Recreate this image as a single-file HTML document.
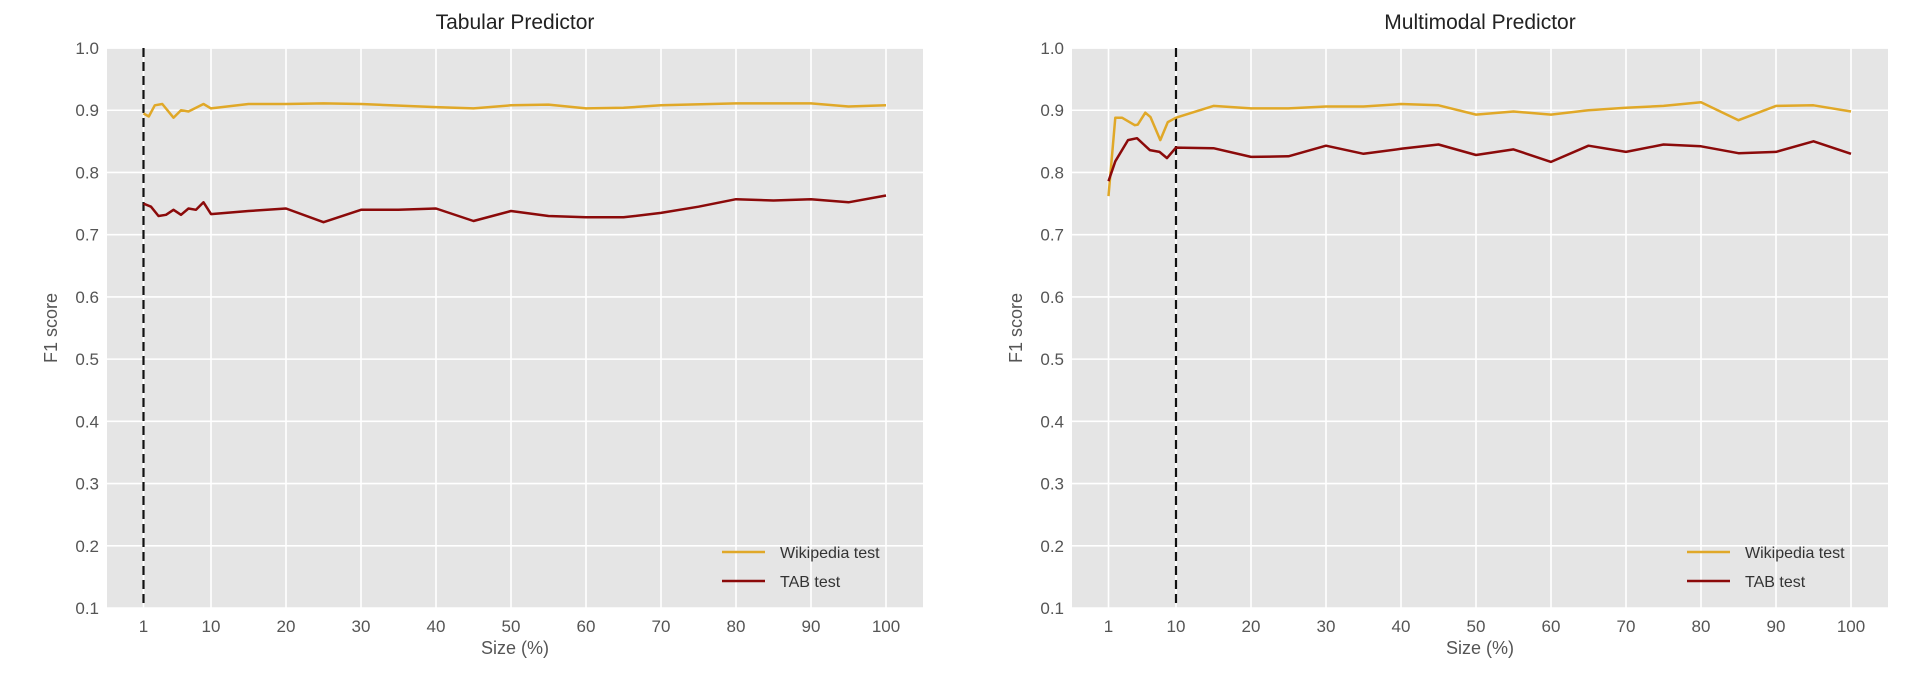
<!DOCTYPE html>
<html><head><meta charset="utf-8"><style>
html,body{margin:0;padding:0;background:#fff;}
svg{display:block;font-family:"Liberation Sans",Arial,sans-serif;}
</style></head><body>
<svg id="s" width="1920" height="677" viewBox="0 0 1920 677" xmlns="http://www.w3.org/2000/svg"></svg>
<script>
const NS="http://www.w3.org/2000/svg";
const s=document.getElementById('s');
function el(t,a,txt){const e=document.createElementNS(NS,t);for(const k in a)e.setAttribute(k,a[k]);if(txt!==undefined)e.textContent=txt;s.appendChild(e);return e;}
const Y=v=>608-(v-0.1)*622.2;
function panel(L,title,vline,wiki,tab){
  const R=L+816, X=x=>L+36.5+(x-1)*(849.5-36.5+ (L>500?-0.5:0))/99*0+ (L+36.5+(x-1)*(742.5/99)) - (L+36.5+(x-1)*(742.5/99)) + (L+36.5+ (x-1)*7.5) - (L+36.5+(x-1)*7.5) + L+36.5+(x-1)*7.5 - L - 36.5 - (x-1)*7.5 + 0;
  const XX=x=>L+36.5+(x-1)*7.5;
  el('rect',{x:L,y:48,width:816,height:560,fill:'#e5e5e5'});
  for(let v=1;v<=10;v++){const y=Y(v/10);el('line',{x1:L,x2:R,y1:y,y2:y,stroke:'#fff','stroke-width':1.6});
    el('text',{x:L-8,y:y+6,'text-anchor':'end','font-size':17,fill:'#555'},(v/10).toFixed(1));}
  const xt=[1,10,20,30,40,50,60,70,80,90,100];
  xt.forEach(t=>{const x=XX(t);el('line',{x1:x,x2:x,y1:48,y2:608,stroke:'#fff','stroke-width':1.6});
    el('text',{x:x,y:632,'text-anchor':'middle','font-size':17,fill:'#555'},t);});
  const vx=XX(vline);
  el('line',{x1:vx,x2:vx,y1:48,y2:608,stroke:'#111','stroke-width':2.2,'stroke-dasharray':'9,5'});
  const pts=d=>d.map(p=>XX(p[0]).toFixed(1)+','+Y(p[1]).toFixed(1)).join(' ');
  el('polyline',{points:pts(wiki),fill:'none',stroke:'#e0a828','stroke-width':2.5,'stroke-linejoin':'round'});
  el('polyline',{points:pts(tab),fill:'none',stroke:'#8b0a0a','stroke-width':2.5,'stroke-linejoin':'round'});
  el('text',{x:L+408,y:29,'text-anchor':'middle','font-size':21,fill:'#222'},title);
  el('text',{x:L+408,y:654,'text-anchor':'middle','font-size':18,fill:'#555'},'Size (%)');
  const ly=328;el('text',{x:57,y:ly,'text-anchor':'middle','font-size':18,fill:'#555',transform:`translate(${L-107},0) rotate(-90 57 ${ly})`},'F1 score');
  const lx=L+615;
  el('line',{x1:lx,x2:lx+43,y1:552,y2:552,stroke:'#e0a828','stroke-width':2.5});
  el('line',{x1:lx,x2:lx+43,y1:581,y2:581,stroke:'#8b0a0a','stroke-width':2.5});
  el('text',{x:lx+58,y:558,'font-size':16,fill:'#333'},'Wikipedia test');
  el('text',{x:lx+58,y:587,'font-size':16,fill:'#333'},'TAB test');
}
panel(107,'Tabular Predictor',1,
 [[1,0.895],[1.7,0.89],[2.5,0.908],[3.5,0.91],[5,0.888],[6,0.9],[7,0.898],[9,0.91],[10,0.903],[15,0.91],[20,0.91],[25,0.911],[30,0.91],[40,0.905],[45,0.903],[50,0.908],[55,0.909],[60,0.903],[65,0.904],[70,0.908],[80,0.911],[90,0.911],[95,0.906],[100,0.908]],
 [[1,0.75],[2,0.745],[3,0.73],[4,0.732],[5,0.74],[6,0.732],[7,0.742],[8,0.74],[9,0.752],[10,0.733],[15,0.738],[20,0.742],[25,0.72],[30,0.74],[35,0.74],[40,0.742],[45,0.722],[50,0.738],[55,0.73],[60,0.728],[65,0.728],[70,0.735],[75,0.745],[80,0.757],[85,0.755],[90,0.757],[95,0.752],[100,0.763]]);
panel(1072,'Multimodal Predictor',10,
 [[1,0.762],[1.9,0.888],[2.8,0.888],[4.5,0.876],[4.9,0.877],[5.9,0.896],[6.6,0.889],[7.9,0.852],[8.9,0.881],[10,0.888],[15,0.907],[20,0.903],[25,0.903],[30,0.906],[35,0.906],[40,0.91],[45,0.908],[50,0.893],[55,0.898],[60,0.893],[65,0.9],[70,0.904],[75,0.907],[80,0.913],[85,0.884],[90,0.907],[95,0.908],[100,0.898]],
 [[1,0.786],[1.9,0.818],[3.6,0.852],[4.8,0.855],[6.5,0.836],[7.8,0.833],[8.8,0.823],[10,0.84],[15,0.839],[20,0.825],[25,0.826],[30,0.843],[35,0.83],[40,0.838],[45,0.845],[50,0.828],[55,0.837],[60,0.817],[65,0.843],[70,0.833],[75,0.845],[80,0.842],[85,0.831],[90,0.833],[95,0.85],[100,0.83]]);
</script>
</body></html>
